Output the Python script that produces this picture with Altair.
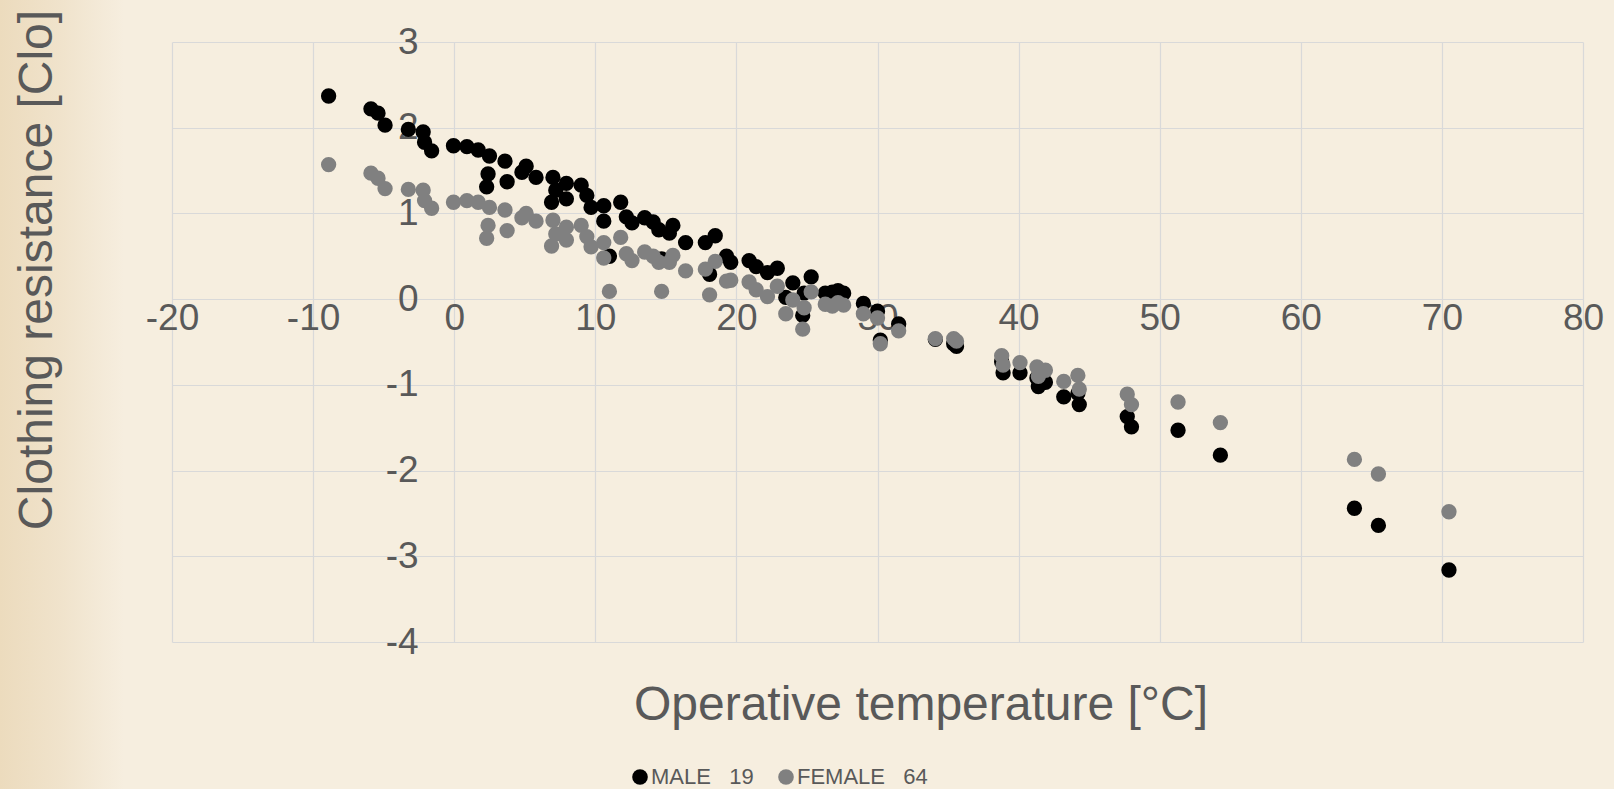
import altair as alt
import pandas as pd

# Operative temperature [°C] and clothing resistance [Clo] for the two subjects
temps = [
    -8.9, -5.9, -5.4, -4.9, -3.25, -2.2, -2.1, -1.6, -0.05, 0.9,
    1.7, 2.5, 3.6, 2.4, 2.3, 3.75, 5.1, 4.8, 5.8, 7.0,
    7.95, 9.0, 7.2, 7.95, 6.9, 9.4, 9.7, 10.6, 11.8, 10.6,
    12.2, 12.6, 13.5, 14.1, 14.5, 15.5, 15.25, 16.4, 17.8, 18.5,
    19.3, 19.6, 11.0, 14.7, 18.1, 20.9, 21.4, 22.2, 22.9, 24.0,
    25.3, 23.5, 24.8, 24.7, 26.3, 26.8, 27.2, 27.6, 29.0, 30.0,
    30.2, 31.5, 34.1, 35.6, 35.4, 38.8, 38.9, 40.1, 41.3, 41.9,
    41.4, 43.2, 44.2, 44.3, 47.7, 48.0, 51.3, 54.3, 63.8, 65.5,
    70.5,
]
male_clo = [
    2.37, 2.22, 2.17, 2.03, 1.98, 1.95, 1.83, 1.73, 1.79, 1.78,
    1.74, 1.67, 1.61, 1.46, 1.31, 1.37, 1.55, 1.48, 1.42, 1.42,
    1.35, 1.33, 1.27, 1.17, 1.13, 1.21, 1.07, 1.09, 1.13, 0.91,
    0.96, 0.89, 0.95, 0.90, 0.81, 0.86, 0.77, 0.66, 0.66, 0.74,
    0.50, 0.43, 0.50, 0.47, 0.29, 0.45, 0.38, 0.31, 0.36, 0.19,
    0.26, 0.02, 0.07, -0.19, 0.07, 0.08, 0.10, 0.07, -0.05, -0.14,
    -0.48, -0.29, -0.47, -0.55, -0.52, -0.73, -0.86, -0.86, -0.92, -0.97,
    -1.02, -1.14, -1.10, -1.23, -1.37, -1.49, -1.53, -1.82, -2.44, -2.64,
    -3.16,
]
female_clo = [
    1.57, 1.47, 1.41, 1.29, 1.28, 1.27, 1.15, 1.06, 1.13, 1.15,
    1.13, 1.07, 1.04, 0.86, 0.71, 0.80, 1.00, 0.95, 0.91, 0.92,
    0.84, 0.86, 0.76, 0.69, 0.62, 0.73, 0.61, 0.66, 0.72, 0.48,
    0.53, 0.45, 0.55, 0.50, 0.43, 0.51, 0.43, 0.33, 0.35, 0.44,
    0.21, 0.22, 0.09, 0.09, 0.05, 0.20, 0.11, 0.03, 0.15, -0.01,
    0.085, -0.17, -0.10, -0.35, -0.06, -0.08, -0.04, -0.07, -0.17, -0.22,
    -0.52, -0.37, -0.46, -0.49, -0.46, -0.66, -0.77, -0.74, -0.79, -0.83,
    -0.90, -0.96, -0.89, -1.05, -1.11, -1.23, -1.20, -1.44, -1.87, -2.04,
    -2.48,
]

series = ["MALE\u00a0\u00a0\u00a019", "FEMALE\u00a0\u00a0\u00a064"]
series_colors = ["#000000", "#808080"]
x_ticks = list(range(-20, 81, 10))
y_ticks = list(range(-4, 4))
x_title = "Operative temperature [°C]"
y_title = "Clothing resistance [Clo]"

TEXT = "#595959"
GRID = "#d9d9d9"
FONT = "Liberation Sans"

# plot area geometry (pixels)
W, H = 1411, 600
PAD_L, PAD_T = 172, 42
X0_PX = W * (0 - (-20)) / 100.0          # where x = 0 sits
Y0_PX = H * (3 - 0) / 7.0                # where y = 0 sits

rows = [{"temp": t, "clo": c, "group": series[0]} for t, c in zip(temps, male_clo)]
rows += [{"temp": t, "clo": c, "group": series[1]} for t, c in zip(temps, female_clo)]
df = pd.DataFrame(rows)

# slightly darker parchment shading along the left edge
shade = alt.Chart(pd.DataFrame({"k": [0]})).mark_rect(
    fill=alt.Gradient(
        gradient="linear",
        stops=[
            alt.GradientStop(color="#ecdbbd", offset=0),
            alt.GradientStop(color="#f0e3cc", offset=0.5),
            alt.GradientStop(color="#f6eedf", offset=1),
        ],
        x1=0, x2=1, y1=0, y2=0,
    )
).encode(
    x=alt.value(-PAD_L), x2=alt.value(-48),
    y=alt.value(-PAD_T), y2=alt.value(789 - PAD_T),
)

# plain hyphen for negative tick labels
label_expr = "'' + datum.value"

points = alt.Chart(df).mark_circle(size=235, opacity=1).encode(
    x=alt.X(
        "temp:Q",
        scale=alt.Scale(domain=[-20, 80], nice=False, zero=False),
        axis=alt.Axis(
            values=x_ticks, title=None, offset=-(H - Y0_PX), domain=False,
            ticks=False, grid=True, gridColor=GRID, gridWidth=1.2,
            labelPadding=1, labelFontSize=37, labelColor=TEXT, labelFont=FONT,
            labelAngle=0, labelFlush=False, labelOverlap=False,
            labelExpr=label_expr,
        ),
    ),
    y=alt.Y(
        "clo:Q",
        scale=alt.Scale(domain=[-4, 3], nice=False, zero=False),
        axis=alt.Axis(
            values=y_ticks, title=None, offset=-X0_PX, domain=False,
            ticks=False, grid=True, gridColor=GRID, gridWidth=1.2,
            labelPadding=36, labelFontSize=37, labelColor=TEXT, labelFont=FONT,
            labelFlush=False, labelOverlap=False, labelBaseline="middle",
            labelExpr=label_expr,
        ),
    ),
    color=alt.Color(
        "group:N",
        scale=alt.Scale(domain=series, range=series_colors),
        legend=alt.Legend(
            orient="none", legendX=457, legendY=724, direction="horizontal",
            title=None, labelFontSize=22, labelColor=TEXT, labelFont=FONT,
            symbolType="circle", symbolSize=245, symbolStrokeWidth=0,
            labelOffset=0, columnPadding=21, padding=0,
        ),
    ),
)

xt = alt.Chart(pd.DataFrame({"t": [x_title]})).mark_text(
    font=FONT, fontSize=48, color=TEXT, align="center", baseline="alphabetic"
).encode(text="t:N", x=alt.value(749), y=alt.value(678))

yt = alt.Chart(pd.DataFrame({"t": [y_title]})).mark_text(
    font=FONT, fontSize=48, color=TEXT, align="center", baseline="alphabetic",
    angle=270,
).encode(text="t:N", x=alt.value(52 - PAD_L), y=alt.value(270 - PAD_T))

chart = alt.layer(shade, points, xt, yt).properties(
    width=W, height=H,
    autosize=alt.AutoSizeParams(type="none"),
    padding={"left": PAD_L, "top": PAD_T, "right": 1614 - PAD_L - W, "bottom": 789 - PAD_T - H},
    background="#f6eedf",
).configure_view(stroke="transparent")

chart.save("out.html", embed_options={"renderer": "svg", "actions": False})
